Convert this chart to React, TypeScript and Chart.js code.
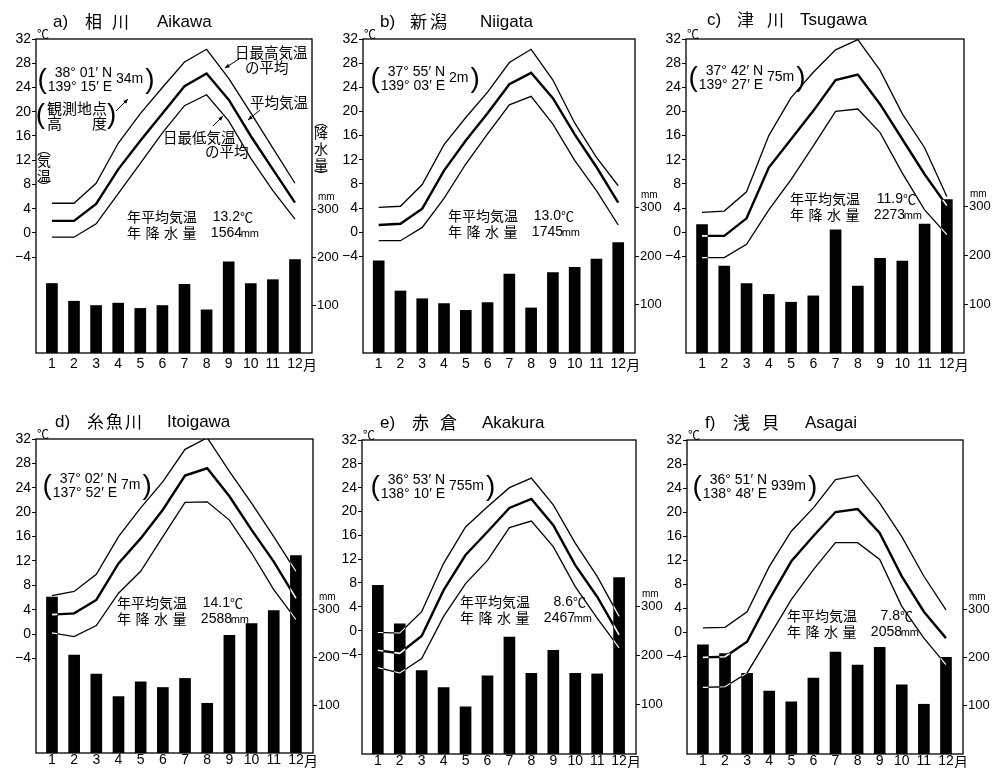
import React, { useEffect, useRef } from "react";
import { Chart, registerables } from "chart.js";
Chart.register(...registerables);

// ---------- data ----------
const MONTHS = [1, 2, 3, 4, 5, 6, 7, 8, 9, 10, 11, 12];
const TEMP_TICKS = [-4, 0, 4, 8, 12, 16, 20, 24, 28, 32];
const PRECIP_TICKS = [100, 200, 300];

const PANEL_LABELS = ["a)", "b)", "c)", "d)", "e)", "f)"];
const JP_NAMES = ["相川", "新潟", "津川", "糸魚川", "赤倉", "浅貝"];
const EN_NAMES = ["Aikawa", "Niigata", "Tsugawa", "Itoigawa", "Akakura", "Asagai"];
const LATITUDES = ["38° 01′ N", "37° 55′ N", "37° 42′ N", "37° 02′ N", "36° 53′ N", "36° 51′ N"];
const LONGITUDES = ["139° 15′ E", "139° 03′ E", "139° 27′ E", "137° 52′ E", "138° 10′ E", "138° 48′ E"];
const ALTITUDES = ["34m", "2m", "75m", "7m", "755m", "939m"];
const ANNUAL_TEMP = ["13.2", "13.0", "11.9", "14.1", "8.6", "7.8"];
const ANNUAL_PRECIP = ["1564", "1745", "2273", "2588", "2467", "2058"];

// Aikawa
const AIKAWA_MAX = [4.9, 4.9, 8.2, 14.8, 19.7, 24.0, 28.2, 30.3, 25.5, 19.8, 14.0, 8.2];
const AIKAWA_MEAN = [2.0, 2.0, 4.8, 10.5, 15.2, 19.7, 24.2, 26.3, 22.0, 16.0, 10.5, 5.0];
const AIKAWA_MIN = [-0.7, -0.7, 1.5, 6.5, 11.5, 16.5, 21.0, 22.8, 18.5, 12.3, 7.0, 2.3];
const AIKAWA_PRECIP = [145, 108, 99, 104, 93, 99, 143, 90, 190, 145, 153, 195];
// Niigata
const NIIGATA_MAX = [4.1, 4.3, 7.9, 14.5, 19.0, 23.2, 28.1, 30.3, 25.2, 18.1, 12.4, 7.7];
const NIIGATA_MEAN = [1.2, 1.4, 3.9, 10.2, 15.2, 19.7, 24.5, 26.4, 22.2, 16.2, 10.8, 4.9];
const NIIGATA_MIN = [-1.4, -1.4, 0.8, 5.6, 11.3, 16.3, 21.1, 22.5, 17.9, 11.9, 6.9, 1.2];
const NIIGATA_PRECIP = [190, 128, 112, 102, 88, 104, 163, 93, 166, 177, 194, 228];
// Tsugawa
const TSUGAWA_MAX = [3.3, 3.5, 6.7, 16.0, 22.3, 26.5, 30.2, 31.9, 26.8, 19.6, 14.0, 5.9];
const TSUGAWA_MEAN = [-0.6, -0.6, 2.3, 10.7, 15.4, 20.1, 25.2, 26.1, 21.2, 15.4, 9.6, 4.4];
const TSUGAWA_MIN = [-4.2, -4.2, -2.0, 3.7, 8.7, 14.3, 20.0, 20.4, 16.5, 9.8, 3.7, -0.4];
const TSUGAWA_PRECIP = [263, 178, 142, 120, 104, 117, 252, 137, 194, 188, 264, 314];
// Itoigawa
const ITOIGAWA_MAX = [6.3, 7.0, 9.8, 16.0, 20.7, 25.0, 30.3, 32.2, 26.7, 21.5, 16.0, 10.3];
const ITOIGAWA_MEAN = [3.2, 3.4, 5.6, 11.6, 15.7, 20.4, 26.0, 27.2, 22.6, 17.1, 11.9, 5.9];
const ITOIGAWA_MIN = [0.2, -0.4, 1.4, 6.7, 10.3, 16.0, 21.6, 21.7, 18.7, 13.3, 7.3, 2.4];
const ITOIGAWA_PRECIP = [326, 205, 165, 118, 149, 137, 156, 104, 246, 271, 298, 413];
// Akakura
const AKAKURA_MAX = [-0.3, -0.4, 3.2, 11.3, 17.4, 20.8, 24.0, 25.6, 21.1, 14.7, 9.1, 2.4];
const AKAKURA_MEAN = [-3.3, -3.8, -0.9, 6.8, 12.7, 16.6, 20.6, 22.1, 17.7, 11.0, 5.7, -0.7];
const AKAKURA_MIN = [-6.2, -7.1, -4.7, 2.4, 7.9, 11.8, 17.3, 18.4, 14.1, 7.4, 2.1, -2.9];
const AKAKURA_PRECIP = [343, 265, 170, 135, 96, 159, 238, 164, 211, 164, 163, 359];
// Asagai
const ASAGAI_MAX = [0.7, 0.8, 3.4, 10.9, 16.8, 20.7, 25.4, 26.1, 21.5, 15.9, 9.3, 3.7];
const ASAGAI_MEAN = [-4.2, -4.1, -1.6, 5.4, 11.8, 16.0, 20.0, 20.5, 16.5, 9.3, 3.4, -1.0];
const ASAGAI_MIN = [-9.2, -9.1, -6.8, -0.7, 5.4, 10.4, 14.9, 14.9, 12.1, 4.3, -1.0, -5.4];
const ASAGAI_PRECIP = [226, 208, 167, 130, 108, 157, 211, 184, 221, 143, 103, 200];

const MAX_SERIES = [AIKAWA_MAX, NIIGATA_MAX, TSUGAWA_MAX, ITOIGAWA_MAX, AKAKURA_MAX, ASAGAI_MAX];
const MEAN_SERIES = [AIKAWA_MEAN, NIIGATA_MEAN, TSUGAWA_MEAN, ITOIGAWA_MEAN, AKAKURA_MEAN, ASAGAI_MEAN];
const MIN_SERIES = [AIKAWA_MIN, NIIGATA_MIN, TSUGAWA_MIN, ITOIGAWA_MIN, AKAKURA_MIN, ASAGAI_MIN];
const PRECIP_SERIES = [AIKAWA_PRECIP, NIIGATA_PRECIP, TSUGAWA_PRECIP, ITOIGAWA_PRECIP, AKAKURA_PRECIP, ASAGAI_PRECIP];

// ---------- layout ----------
const PANEL_BOX = [
  { L: 36, T: 39, R: 312, B: 353, tMin: -19.8, pMax: 655, labelPad: 3 },
  { L: 363, T: 39, R: 635, B: 353, tMin: -20.0, pMax: 648, labelPad: 3 },
  { L: 686, T: 39, R: 964, B: 353, tMin: -20.0, pMax: 643, labelPad: 3 },
  { L: 36, T: 439, R: 313, B: 753, tMin: -19.5, pMax: 657, labelPad: -1 },
  { L: 362, T: 440, R: 636, B: 754, tMin: -20.7, pMax: 639, labelPad: -1 },
  { L: 687, T: 440, R: 963, B: 754, tMin: -20.3, pMax: 650, labelPad: -1 },
];
const TITLE_POS = [
  { lx: 17, jx: 49, step: 27, ex: 121, dy: -17 },
  { lx: 17, jx: 47, step: 20, ex: 117, dy: -17 },
  { lx: 21, jx: 51, step: 30, ex: 114, dy: -19 },
  { lx: 19, jx: 51, step: 19, ex: 131, dy: -17 },
  { lx: 18, jx: 50, step: 28, ex: 120, dy: -17 },
  { lx: 18, jx: 46, step: 29, ex: 118, dy: -17 },
];
const COORD_POS = [[76, 34], [82, 33], [77, 32], [81, 40], [83, 40], [80, 40]];
const STAT_POS = [[91, 178], [85, 177], [104, 160], [81, 164], [98, 162], [100, 176]];
const X_MIN = 0.8;
const X_MAX = 12.25;
const LEFT_W = 36;
const RIGHT_W = 36;
const TOP_PAD = 39;
const BOTTOM_H = 24;

const FONT = "'Liberation Sans', 'Noto Sans CJK JP', sans-serif";
const JPFONT = "'Noto Sans CJK JP', sans-serif";

function txt(ctx: CanvasRenderingContext2D, s: string, x: number, y: number, size: number, align: CanvasTextAlign = "left", family = FONT) {
  ctx.font = `${size}px ${family}`;
  ctx.textAlign = align;
  ctx.textBaseline = "middle";
  ctx.fillText(s, x, y);
}

function arrow(ctx: CanvasRenderingContext2D, x1: number, y1: number, x2: number, y2: number) {
  ctx.beginPath();
  ctx.moveTo(x1, y1);
  ctx.lineTo(x2, y2);
  ctx.lineWidth = 1;
  ctx.stroke();
  const a = Math.atan2(y2 - y1, x2 - x1);
  const h = 5;
  ctx.beginPath();
  ctx.moveTo(x2, y2);
  ctx.lineTo(x2 - h * Math.cos(a - 0.4), y2 - h * Math.sin(a - 0.4));
  ctx.lineTo(x2 - h * Math.cos(a + 0.4), y2 - h * Math.sin(a + 0.4));
  ctx.closePath();
  ctx.fill();
}

function vertical(ctx: CanvasRenderingContext2D, chars: string[], x: number, ys: number[], size: number) {
  chars.forEach((c, i) => txt(ctx, c, x, ys[i], size, "center", JPFONT));
}

function makePlugin(idx: number) {
  return {
    id: "deco" + idx,
    afterDatasetsDraw(chart: any) {
      const ctx: CanvasRenderingContext2D = chart.ctx;
      const bars = chart.getDatasetMeta(3).data;
      ctx.save();
      ctx.beginPath();
      bars.forEach((b: any) => {
        const p = b.getProps(["x", "y", "base", "width"], true);
        ctx.rect(p.x - p.width / 2, Math.min(p.y, p.base), p.width, Math.abs(p.base - p.y));
      });
      ctx.clip();
      ctx.strokeStyle = "#fff";
      ctx.lineJoin = "miter";
      [0, 1, 2].forEach((i) => {
        const pts = chart.getDatasetMeta(i).data;
        ctx.lineWidth = i === 1 ? 1.6 : 1.1;
        ctx.beginPath();
        pts.forEach((pt: any, k: number) => (k === 0 ? ctx.moveTo(pt.x, pt.y) : ctx.lineTo(pt.x, pt.y)));
        ctx.stroke();
      });
      ctx.restore();
    },
    afterDraw(chart: any) {
      const ctx: CanvasRenderingContext2D = chart.ctx;
      const { left: L, top: T, right: R, bottom: B } = chart.chartArea;
      ctx.save();
      ctx.fillStyle = "#000";
      ctx.strokeStyle = "#000";
      // frame
      ctx.lineWidth = 1.3;
      ctx.strokeRect(L, T, R - L, B - T);

      // title
      const tp = TITLE_POS[idx];
      const ty = T + tp.dy;
      txt(ctx, PANEL_LABELS[idx], L + tp.lx, ty, 17);
      Array.from(JP_NAMES[idx]).forEach((c, k) => txt(ctx, c, L + tp.jx + k * tp.step, ty, 17, "left", JPFONT));
      txt(ctx, EN_NAMES[idx], L + tp.ex, ty, 17);

      // unit labels
      txt(ctx, "℃", L + 7, T - 5, 12, "center", JPFONT);
      const yP = chart.scales.yP;
      txt(ctx, "mm", R + 6, yP.getPixelForValue(300) - 12, 10);
      const xs = chart.scales.x;
      const pad = PANEL_BOX[idx].labelPad;
      txt(ctx, "月", xs.getPixelForValue(12) + 8, B + pad + 8.5, 14, "left", JPFONT);

      // coordinates
      const [cx, cy] = COORD_POS[idx];
      const rX = L + cx;
      const y1 = T + cy;
      txt(ctx, LATITUDES[idx], rX, y1, 14, "right");
      txt(ctx, LONGITUDES[idx], rX, y1 + 14, 14, "right");
      ctx.font = `14px ${FONT}`;
      const w2 = ctx.measureText(LONGITUDES[idx]).width;
      const wA = ctx.measureText(ALTITUDES[idx]).width;
      txt(ctx, ALTITUDES[idx], rX + 4, y1 + 6, 14);
      txt(ctx, "(", rX - w2 - 1, y1 + 7, 28, "right");
      txt(ctx, ")", rX + 6 + wA, y1 + 7, 28, "left");

      // annual stats
      const [sx, sy] = STAT_POS[idx];
      const x0 = L + sx;
      const y0 = T + sy;
      txt(ctx, "年平均気温", x0, y0, 14, "left", JPFONT);
      txt(ctx, "℃", x0 + 126, y0, 13, "right", JPFONT);
      txt(ctx, ANNUAL_TEMP[idx], x0 + 113, y0, 14, "right");
      ["年", "降", "水", "量"].forEach((c, k) => txt(ctx, c, x0 + k * 18.5, y0 + 16, 14, "left", JPFONT));
      txt(ctx, "mm", x0 + 132, y0 + 17, 11, "right");
      txt(ctx, ANNUAL_PRECIP[idx], x0 + 115, y0 + 16, 14, "right");

      if (idx === 0) {
        // explanatory notes
        txt(ctx, "観測地点", L + 11, T + 69, 15, "left", JPFONT);
        txt(ctx, "高", L + 11, T + 84, 15, "left", JPFONT);
        txt(ctx, "度", L + 56, T + 84, 15, "left", JPFONT);
        txt(ctx, "(", L + 9, T + 76, 28, "right");
        txt(ctx, ")", L + 71, T + 76, 28, "left");
        arrow(ctx, L + 80, T + 72, L + 92, T + 60);

        txt(ctx, "日最高気温", L + 199, T + 13, 14.5, "left", JPFONT);
        txt(ctx, "の平均", L + 209, T + 28, 14.5, "left", JPFONT);
        arrow(ctx, L + 203, T + 20, L + 189, T + 29);

        txt(ctx, "平均気温", L + 214, T + 63, 14.5, "left", JPFONT);
        arrow(ctx, L + 224, T + 71, L + 212, T + 81);

        txt(ctx, "日最低気温", L + 127, T + 98, 14.5, "left", JPFONT);
        txt(ctx, "の平均", L + 169, T + 112, 14.5, "left", JPFONT);
        arrow(ctx, L + 177, T + 87, L + 187, T + 77);

        vertical(ctx, ["︵", "気", "温", "︶"], L + 8, [T + 110, T + 122, T + 137, T + 148], 14);
        vertical(ctx, ["︵", "降", "水", "量", "︶"], R + 9, [T + 82, T + 94, T + 110, T + 126, T + 137], 14);
      }
      ctx.restore();
    },
  };
}

function Panel({ idx }: { idx: number }) {
  const ref = useRef<HTMLCanvasElement>(null);
  const box = PANEL_BOX[idx];
  const width = box.R - box.L + LEFT_W + RIGHT_W;
  const height = box.B - box.T + TOP_PAD + BOTTOM_H;

  useEffect(() => {
    if (!ref.current) return;
    const toXY = (arr: number[]) => MONTHS.map((m, i) => ({ x: m, y: arr[i] }));
    const tickFont = { family: FONT, size: 14 };
    const chart = new Chart(ref.current, {
      type: "bar",
      data: {
        datasets: [
          { type: "line", data: toXY(MAX_SERIES[idx]), yAxisID: "yT", borderColor: "#000", borderWidth: 1.3, pointRadius: 0, tension: 0, fill: false, order: 1 } as any,
          { type: "line", data: toXY(MEAN_SERIES[idx]), yAxisID: "yT", borderColor: "#000", borderWidth: 2.4, pointRadius: 0, tension: 0, fill: false, order: 1 } as any,
          { type: "line", data: toXY(MIN_SERIES[idx]), yAxisID: "yT", borderColor: "#000", borderWidth: 1.3, pointRadius: 0, tension: 0, fill: false, order: 1 } as any,
          { type: "bar", data: toXY(PRECIP_SERIES[idx]), yAxisID: "yP", backgroundColor: "#000", borderWidth: 0, barThickness: 11, order: 2 } as any,
        ],
      },
      options: {
        responsive: false,
        animation: false,
        devicePixelRatio: 1,
        layout: { padding: { top: TOP_PAD, left: 0, right: 0, bottom: 0 } },
        plugins: { legend: { display: false }, tooltip: { enabled: false }, title: { display: false } },
        scales: {
          x: {
            type: "linear",
            min: X_MIN,
            max: X_MAX,
            grid: { display: false, drawTicks: false, tickLength: 0 },
            border: { display: false },
            afterBuildTicks: (s: any) => { s.ticks = MONTHS.map((v) => ({ value: v })); },
            afterFit: (s: any) => { s.height = BOTTOM_H; },
            ticks: { color: "#000", font: tickFont, padding: box.labelPad, maxRotation: 0, autoSkip: false, callback: (v: any) => String(v) },
          },
          yT: {
            type: "linear",
            position: "left",
            min: box.tMin,
            max: 32,
            grid: { drawOnChartArea: false, drawTicks: true, tickLength: 4, color: "#000", lineWidth: 1 },
            border: { display: false },
            afterBuildTicks: (s: any) => { s.ticks = TEMP_TICKS.map((v) => ({ value: v })); },
            afterFit: (s: any) => { s.width = LEFT_W; },
            ticks: { color: "#000", font: tickFont, padding: 1, callback: (v: any) => (v < 0 ? "−" + Math.abs(v) : String(v)) },
          },
          yP: {
            type: "linear",
            position: "right",
            min: 0,
            max: box.pMax,
            grid: { drawOnChartArea: false, drawTicks: true, tickLength: 4, color: "#000", lineWidth: 1 },
            border: { display: false },
            afterBuildTicks: (s: any) => { s.ticks = PRECIP_TICKS.map((v) => ({ value: v })); },
            afterFit: (s: any) => { s.width = RIGHT_W; },
            ticks: { color: "#000", font: { family: FONT, size: 13 }, padding: 1, callback: (v: any) => String(v) },
          },
        },
      } as any,
      plugins: [makePlugin(idx)],
    });
    return () => chart.destroy();
  }, [idx]);

  return (
    <canvas
      ref={ref}
      width={width}
      height={height}
      style={{ position: "absolute", left: box.L - LEFT_W, top: box.T - TOP_PAD, width, height }}
    />
  );
}

export default function App() {
  return (
    <div style={{ position: "absolute", left: 0, top: 0, width: 995, height: 768, overflow: "hidden", background: "#fff" }}>
      {PANEL_BOX.map((_, i) => (
        <Panel key={i} idx={i} />
      ))}
    </div>
  );
}
